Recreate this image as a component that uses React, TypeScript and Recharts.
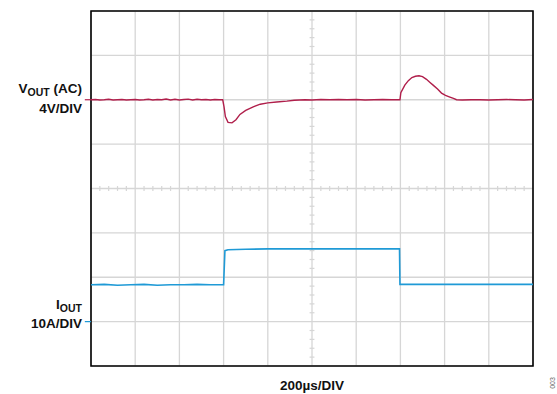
import {
  LineChart,
  Line,
  XAxis,
  YAxis,
  CartesianGrid,
  ReferenceLine,
  ReferenceArea,
} from "recharts";

// scope screen: 10 horizontal divisions, 8 vertical divisions
const xDivs = [0, 1, 2, 3, 4, 5, 6, 7, 8, 9, 10];
const yDivs = [0, 1, 2, 3, 4, 5, 6, 7, 8];
const minorFractions = [0.2, 0.4, 0.6, 0.8];

// VOUT (AC) trace, in divisions (4V/DIV), ground marker at div 6
const voutTime = [
  0, 0.1, 0.2, 0.3, 0.4, 0.5, 0.6, 0.7, 0.8, 0.9, 1.0, 1.1, 1.2, 1.3, 1.4, 1.5,
  1.6, 1.7, 1.8, 1.9, 2.0, 2.1, 2.2, 2.3, 2.4, 2.5, 2.6, 2.7, 2.8, 2.9, 2.98,
  3.01, 3.04, 3.1, 3.19, 3.28, 3.37, 3.5, 3.67, 3.83, 4.0, 4.2, 4.43, 4.6, 4.84,
  5.0, 5.2, 5.4, 5.6, 5.8, 6.0, 6.2, 6.4, 6.6, 6.8, 6.99, 7.01, 7.1, 7.18, 7.26,
  7.34, 7.42, 7.5, 7.59, 7.67, 7.74, 7.84, 7.93, 8.02, 8.12, 8.2, 8.27, 8.4,
  8.6, 8.8, 9.0, 9.2, 9.4, 9.6, 9.8, 10,
];
const voutLevel = [
  6.0, 6.005, 5.995, 6.0, 6.01, 5.995, 6.0, 6.005, 5.995, 6.0, 6.005, 5.995,
  6.0, 6.01, 5.995, 6.005, 6.0, 6.015, 5.995, 6.01, 5.995, 6.005, 6.015, 5.995,
  6.01, 6.0, 6.005, 5.995, 6.005, 6.0, 6.0, 5.84, 5.62, 5.49, 5.48, 5.55, 5.67,
  5.76, 5.84, 5.9, 5.93, 5.95, 5.97, 5.99, 6.0, 5.995, 6.005, 6.0, 6.005, 6.0,
  6.005, 5.995, 6.0, 6.005, 6.0, 6.0, 6.16, 6.33, 6.43, 6.5, 6.53, 6.54, 6.52,
  6.46, 6.39, 6.33, 6.24, 6.15, 6.1, 6.06, 6.03, 6.0, 5.995, 6.0, 6.0, 5.995,
  6.0, 6.005, 6.0, 5.995, 6.005,
];

// IOUT trace, in divisions (10A/DIV), ground marker at div 1
const ioutTime = [
  0, 0.3, 0.6, 0.9, 1.2, 1.5, 1.8, 2.1, 2.4, 2.7, 2.98, 3.0, 3.03, 3.1, 3.5,
  4.0, 4.5, 5.0, 5.5, 6.0, 6.5, 6.98, 6.99, 7.5, 8.0, 8.5, 9.0, 9.5, 10,
];
const ioutLevel = [
  1.83, 1.84, 1.82, 1.83, 1.84, 1.82, 1.83, 1.83, 1.84, 1.83, 1.83, 1.83, 2.6,
  2.62, 2.63, 2.64, 2.64, 2.64, 2.64, 2.64, 2.64, 2.64, 1.84, 1.84, 1.84, 1.84,
  1.84, 1.84, 1.84,
];

const vout = voutTime.map((t, i) => ({ t, v: voutLevel[i] }));
const iout = ioutTime.map((t, i) => ({ t, v: ioutLevel[i] }));

const VOUT_COLOR = "#b01f4b";
const IOUT_COLOR = "#1f9ad6";
const GRID = "#d6d6d6";

const minorX = xDivs.slice(0, -1).flatMap((d) => minorFractions.map((f) => d + f));
const minorY = yDivs.slice(0, -1).flatMap((d) => minorFractions.map((f) => d + f));

const labelStyle: React.CSSProperties = {
  position: "absolute",
  fontFamily: "'Liberation Sans', Arial, sans-serif",
  fontWeight: "bold",
  fontSize: 13.5,
  textAlign: "right",
  lineHeight: "16px",
  whiteSpace: "nowrap",
  color: "#111",
};
const subStyle: React.CSSProperties = { fontSize: 10.5, position: "relative", top: 3, verticalAlign: "baseline" };

export default function App() {
  return (
    <div style={{ position: "absolute", left: 0, top: 0, width: 557, height: 394, background: "#fff" }}>
      <LineChart
        width={557}
        height={394}
        margin={{ top: 11, right: 24, bottom: 28, left: 91 }}
      >
        <XAxis dataKey="t" type="number" domain={[0, 10]} ticks={xDivs} hide allowDataOverflow />
        <YAxis type="number" domain={[0, 8]} ticks={yDivs} hide allowDataOverflow />
        <CartesianGrid stroke={GRID} strokeWidth={1.3} />
        {minorX.map((t) => (
          <ReferenceLine
            key={"mx" + t}
            segment={[{ x: t, y: 3.945 }, { x: t, y: 4.055 }]}
            stroke={GRID}
            strokeWidth={1.2}
          />
        ))}
        {minorY.map((t) => (
          <ReferenceLine
            key={"my" + t}
            segment={[{ x: 4.945, y: t }, { x: 5.055, y: t }]}
            stroke={GRID}
            strokeWidth={1.2}
          />
        ))}
        <ReferenceLine
          segment={[{ x: -0.14, y: 6 }, { x: 0, y: 6 }]}
          stroke={VOUT_COLOR}
          strokeWidth={1.2}
          ifOverflow="visible"
        />
        <ReferenceLine
          segment={[{ x: -0.14, y: 1 }, { x: 0, y: 1 }]}
          stroke={IOUT_COLOR}
          strokeWidth={1.2}
          ifOverflow="visible"
        />
        <Line
          data={vout}
          dataKey="v"
          type="linear"
          stroke={VOUT_COLOR}
          strokeWidth={1.4}
          dot={false}
          isAnimationActive={false}
        />
        <Line
          data={iout}
          dataKey="v"
          type="linear"
          stroke={IOUT_COLOR}
          strokeWidth={1.6}
          dot={false}
          isAnimationActive={false}
        />
        <ReferenceArea x1={0} x2={10} y1={0} y2={8} fill="none" stroke="#000" strokeWidth={1.6} ifOverflow="visible" />
      </LineChart>

      <div style={{ ...labelStyle, right: 557 - 82, top: 81 }}>
        V<span style={subStyle}>OUT</span> (AC)
      </div>
      <div style={{ ...labelStyle, right: 557 - 82, top: 101 }}>4V/DIV</div>
      <div style={{ ...labelStyle, right: 557 - 82, top: 297 }}>
        I<span style={subStyle}>OUT</span>
      </div>
      <div style={{ ...labelStyle, right: 557 - 82, top: 316 }}>10A/DIV</div>
      <div
        style={{
          ...labelStyle,
          left: 212,
          width: 200,
          textAlign: "center",
          top: 378,
        }}
      >
        200µs/DIV
      </div>
      <div
        style={{
          position: "absolute",
          left: 545,
          top: 377,
          width: 16,
          height: 12,
          fontFamily: "'Liberation Sans', Arial, sans-serif",
          fontSize: 7,
          color: "#666",
          transform: "rotate(-90deg)",
          textAlign: "center",
          lineHeight: "12px",
        }}
      >
        003
      </div>
    </div>
  );
}
